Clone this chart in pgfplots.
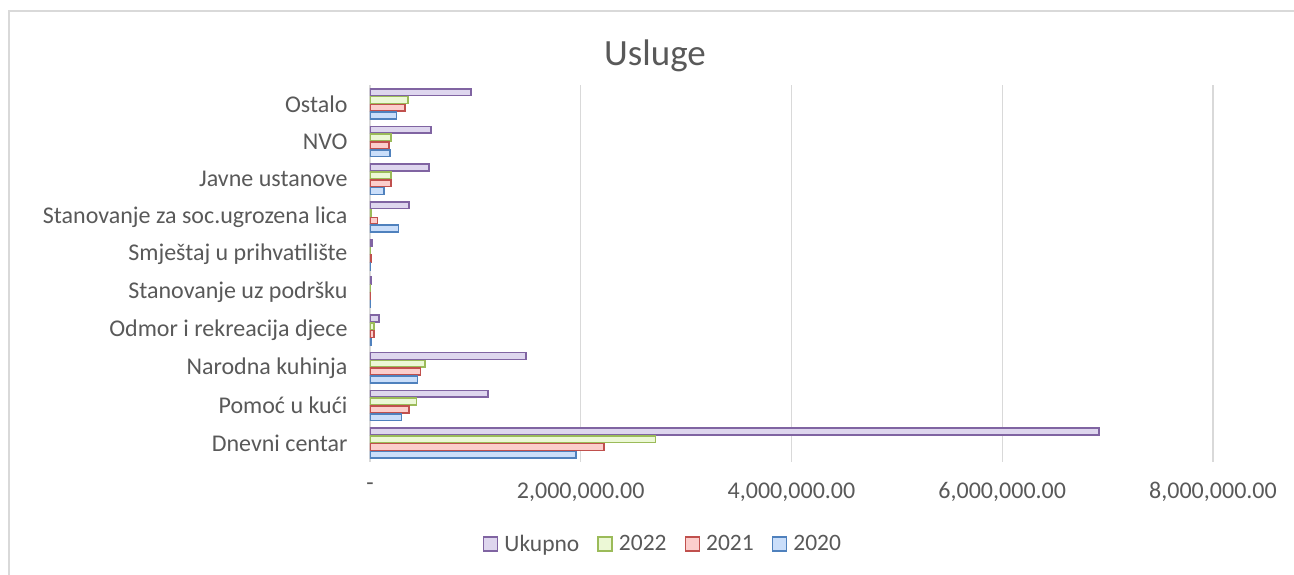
\documentclass[border=0pt]{standalone}
\usepackage{fontspec}
\setmainfont{Carlito}
\usepackage{pgfplots}
\pgfplotsset{compat=1.18}
\definecolor{txt}{RGB}{89,89,89}
\definecolor{gridc}{RGB}{217,217,217}
\definecolor{uLine}{RGB}{128,100,162}
\definecolor{uFill}{RGB}{222,214,238}
\definecolor{aLine}{RGB}{155,187,89}
\definecolor{aFill}{RGB}{236,248,214}
\definecolor{bLine}{RGB}{192,80,77}
\definecolor{bFill}{RGB}{252,206,204}
\definecolor{cLine}{RGB}{79,129,189}
\definecolor{cFill}{RGB}{202,222,250}
\pgfplotsset{sqleg/.style={legend image code/.code={\draw[##1,line width=1.6pt] (0pt,-7pt) rectangle (14pt,7pt);}}}

% values (y = category index, Dnevni centar = 0)
\pgfplotstableread{
y  ukupno  g2022   g2021   g2020
0  6920000 2710000 2220000 1955000
1  1120000 440000  370000  300000
2  1480000 520000  480000  450000
3  85000   40000   40000   10000
4  10000   3000    3000    3000
5  20000   5000    7000    3000
6  370000  10000   70000   270000
7  560000  200000  200000  135000
8  580000  200000  180000  190000
9  960000  360000  330000  250000
}\usluge

\begin{document}
\begin{tikzpicture}[x=1pt,y=1pt]
\useasboundingbox (0,0) rectangle (1294,575);
\draw[gridc, line width=1.2pt] (9,0) -- (9,564) -- (1294,564);
\node[text=txt, font=\fontsize{37}{42}\selectfont] at (655,519) {Usluge};
\begin{axis}[
  at={(370pt,113pt)}, anchor=south west,
  scale only axis, width=843pt, height=377pt,
  xbar, bar width=0.18,
  xmin=0, xmax=8000000, ymin=-0.5, ymax=9.5,
  ytick={0,...,9},
  yticklabels={Dnevni centar, Pomoć u kući, Narodna kuhinja, Odmor i rekreacija djece, Stanovanje uz podršku, Smještaj u prihvatilište, Stanovanje za soc.ugrozena lica, Javne ustanove, NVO, Ostalo},
  xtick={0,2000000,4000000,6000000,8000000},
  xticklabels={-, {2,000,000.00}, {4,000,000.00}, {6,000,000.00}, {8,000,000.00}},
  scaled x ticks=false,
  xmajorgrids, grid style={gridc, line width=1.2pt},
  axis lines=left, axis line style={-},
  x axis line style={draw=none},
  y axis line style={gridc, line width=1.2pt},
  major tick length=0pt,
  tick label style={font=\fontsize{24}{28}\selectfont, text=txt},
  yticklabel style={xshift=-19pt},
  xticklabel style={yshift=-17pt},
  legend columns=4,
  legend style={at={(rel axis cs:0.3475,-0.2175)}, anchor=center, draw=none,
    font=\fontsize{23.5}{28}\selectfont, text=txt,
    /tikz/every even column/.append style={column sep=16pt},
    /tikz/every odd column/.append style={column sep=4pt}},
]
\addplot[sqleg, draw=uLine, fill=uFill, line width=1.6pt, bar shift=0.31] table[x=ukupno, y=y] {\usluge};
\addplot[sqleg, draw=aLine, fill=aFill, line width=1.6pt, bar shift=0.103] table[x=g2022, y=y] {\usluge};
\addplot[sqleg, draw=bLine, fill=bFill, line width=1.6pt, bar shift=-0.103] table[x=g2021, y=y] {\usluge};
\addplot[sqleg, draw=cLine, fill=cFill, line width=1.6pt, bar shift=-0.31] table[x=g2020, y=y] {\usluge};
\legend{Ukupno, 2022, 2021, 2020}
\end{axis}
\end{tikzpicture}
\end{document}
